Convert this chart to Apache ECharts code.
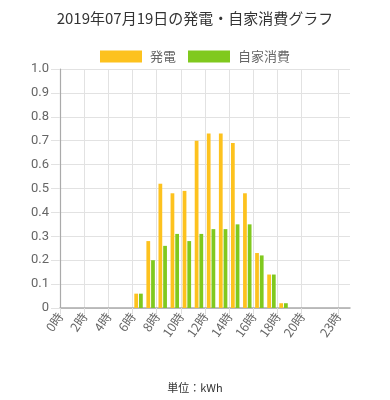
<!DOCTYPE html>
<html>
<head>
<meta charset="utf-8">
<script src="https://cdn.jsdelivr.net/npm/echarts@6/dist/echarts.min.js"></script>
<style>
html,body{margin:0;padding:0;background:#fff;}
#c{width:390px;height:400px;}
</style>
</head>
<body>
<div id="c"></div>
<script>
var titleText = '2019年07月19日の発電・自家消費グラフ';
var unitText = '単位：kWh';
var hours = ['0時','1時','2時','3時','4時','5時','6時','7時','8時','9時','10時','11時','12時','13時','14時','15時','16時','17時','18時','19時','20時','21時','22時','23時'];
var tickLabels = ['0時','','2時','','4時','','6時','','8時','','10時','','12時','','14時','','16時','','18時','','20時','','','23時',''];
var generation = [0,0,0,0,0,0,0.06,0.28,0.52,0.48,0.49,0.70,0.73,0.73,0.69,0.48,0.23,0.14,0.02,0,0,0,0,0];
var selfUse    = [0,0,0,0,0,0,0.06,0.20,0.26,0.31,0.28,0.31,0.33,0.33,0.35,0.35,0.22,0.14,0.02,0,0,0,0,0];
var yTicks = [0,0.1,0.2,0.3,0.4,0.5,0.6,0.7,0.8,0.9,1.0];

var FONT = '"Noto Sans CJK JP", "Noto Sans", sans-serif';
var chart = echarts.init(document.getElementById('c'));
var showIdx = function (i) { return tickLabels[i] !== ''; };
chart.setOption({
  animation: false,
  textStyle: { fontFamily: FONT },
  title: [{
    text: titleText, left: 'center', top: 6,
    textStyle: { fontSize: 15, fontWeight: 'normal', color: '#333', fontFamily: FONT }
  }, {
    text: unitText, left: 'center', top: 377,
    textStyle: { fontSize: 11, fontWeight: 'normal', color: '#333', fontFamily: FONT }
  }],
  legend: {
    top: 45, left: 'center',
    itemWidth: 42, itemHeight: 12, itemGap: 12,
    icon: 'rect',
    textStyle: { fontSize: 13, color: '#666', padding: [0, 0, 0, 3], fontFamily: FONT },
    data: ['発電', '自家消費']
  },
  grid: { left: 60, right: 40, top: 69, bottom: 92 },
  xAxis: [{
    type: 'category', data: hours, boundaryGap: true,
    axisLine: { show: false }, axisTick: { show: false },
    axisLabel: { show: false }, splitLine: { show: false }
  }, {
    type: 'category', data: tickLabels, boundaryGap: false, position: 'bottom',
    axisLine: { show: true, lineStyle: { color: '#aaa', width: 1.5 } },
    axisTick: { show: true, length: 6, interval: showIdx, lineStyle: { color: '#ddd' } },
    axisLabel: { interval: showIdx, rotate: 55, color: '#666', fontSize: 12.5, margin: 6, fontFamily: FONT },
    splitLine: { show: true, interval: showIdx, lineStyle: { color: '#e2e2e2' } }
  }],
  yAxis: {
    type: 'value', min: 0, max: 1, interval: 0.1,
    axisLine: { show: true, lineStyle: { color: '#aaa', width: 1.2 } },
    axisTick: { show: true, length: 9, lineStyle: { color: '#e2e2e2' } },
    axisLabel: {
      color: '#666', fontSize: 13, margin: 11, fontFamily: '"Roboto", sans-serif',
      formatter: function (v) {
        var t = yTicks.find(function (x) { return Math.abs(x - v) < 1e-6; });
        return t === 0 ? '0' : (t !== undefined ? t.toFixed(1) : '');
      }
    },
    splitLine: { show: true, lineStyle: { color: '#e2e2e2' } }
  },
  series: [{
    name: '発電', type: 'bar', xAxisIndex: 0, data: generation,
    itemStyle: { color: '#FDC21E' },
    barCategoryGap: '30%', barGap: '25%'
  }, {
    name: '自家消費', type: 'bar', xAxisIndex: 0, data: selfUse,
    itemStyle: { color: '#80C91E' },
    barCategoryGap: '30%', barGap: '25%'
  }]
});
</script>
</body>
</html>
